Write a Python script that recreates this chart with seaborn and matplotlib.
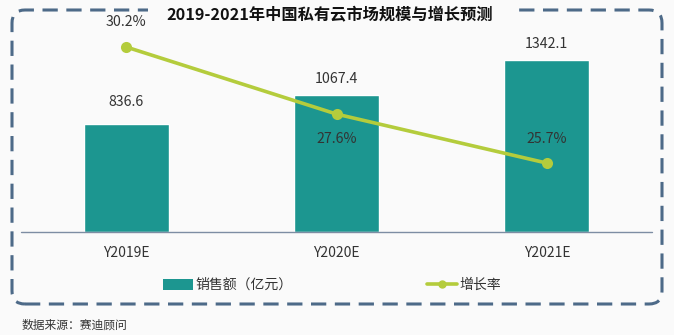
import matplotlib
matplotlib.use("Agg")
import matplotlib.pyplot as plt
import seaborn as sns
import pandas as pd
from matplotlib.patches import FancyBboxPatch, Patch, Rectangle
from matplotlib.lines import Line2D
from matplotlib.transforms import IdentityTransform

categories = ["Y2019E", "Y2020E", "Y2021E"]
sales = [836.6, 1067.4, 1342.1]
growth = [30.2, 27.6, 25.7]
sales_labels = ["836.6", "1067.4", "1342.1"]
growth_labels = ["30.2%", "27.6%", "25.7%"]
title = "2019-2021年中国私有云市场规模与增长预测"
legend_bar = "销售额（亿元）"
legend_line = "增长率"
source = "数据来源：赛迪顾问"

sns.set_theme(style="white")
plt.rcParams["font.family"] = ["Noto Sans CJK SC", "DejaVu Sans"]

BAR = "#1c9690"
LINE = "#b4cc3c"
TXT = "#333333"
BG = "#fafafa"

df = pd.DataFrame({"cat": categories, "sales": sales, "growth": growth})

fig = plt.figure(figsize=(6.74, 3.35), dpi=100)
fig.patch.set_facecolor(BG)

ax = fig.add_axes([21 / 674, 103 / 335, 631 / 674, 212 / 335])
ax.set_facecolor("none")
sns.barplot(data=df, x="cat", y="sales", color=BAR, width=0.405, ax=ax, saturation=1)
ax.axhline(0, color="#7d8da3", linewidth=1.0, clip_on=False, zorder=5)
ax.set_xlim(-0.5, 2.5)
ax.set_ylim(0, 212 / 0.1285)
ax.set_xlabel("")
ax.set_ylabel("")
ax.set_yticks([])
ax.tick_params(axis="x", length=0, labelsize=10, labelcolor=TXT, pad=10)
for s in ax.spines.values():
    s.set_visible(False)

bar_off = [22, 16, 16]
for i, (v, lab) in enumerate(zip(sales, sales_labels)):
    ax.annotate(lab, (i, v), xytext=(0, bar_off[i]), textcoords="offset pixels",
                ha="center", va="center", fontsize=10.2, color=TXT)

ax2 = ax.twinx()
ax2.set_facecolor("none")
sns.lineplot(data=df, x="cat", y="growth", color=LINE, linewidth=2.6, marker="o",
             markersize=8, markeredgewidth=0, ax=ax2, sort=False)
ax2.set_ylim(30.2 - 185 / 25.8, 30.2 + 27 / 25.8)
ax2.set_xlim(-0.5, 2.5)
ax2.set_yticks([])
ax2.set_ylabel("")
ax2.set_xlabel("")
for s in ax2.spines.values():
    s.set_visible(False)

pct_off = [25, -25, 24]
for i, (v, lab) in enumerate(zip(growth, growth_labels)):
    ax2.annotate(lab, (i, v), xytext=(0, pct_off[i]), textcoords="offset pixels",
                 ha="center", va="center", fontsize=10.2, color=TXT)

# dashed rounded frame (pixel coordinates)
frame = FancyBboxPatch((12, 335 - 304), 650, 294,
                       boxstyle="round,pad=0,rounding_size=13",
                       transform=IdentityTransform(), fill=False,
                       edgecolor="#4d6a88", linewidth=2.2,
                       linestyle=(0, (5, 2.8)), zorder=1)
fig.add_artist(frame)
gap = Rectangle((148, 335 - 20), 369, 18, transform=IdentityTransform(),
                facecolor=BG, edgecolor="none", zorder=1.5)
fig.add_artist(gap)

fig.text(330 / 674, 1 - 15 / 335, title, ha="center", va="center", fontsize=11.7,
         fontweight="bold", color="#111111", zorder=3)

h1 = Patch(facecolor=BAR, edgecolor="none")
h2 = Line2D([], [], color=LINE, linewidth=2.6, marker="o", markersize=5)
fig.legend([h1], [legend_bar], loc="center left",
           bbox_to_anchor=(150 / 674, 1 - 285 / 335), frameon=False,
           fontsize=10, handlelength=2.2, handleheight=0.85, handletextpad=0.15,
           labelcolor=TXT)
fig.legend([h2], [legend_line], loc="center left",
           bbox_to_anchor=(414 / 674, 1 - 285 / 335), frameon=False,
           fontsize=10, handlelength=2.2, handletextpad=0.15, labelcolor=TXT)

fig.text(22 / 674, 1 - 325 / 335, source, ha="left", va="center", fontsize=8.5,
         color=TXT)

fig.savefig("out.png", dpi=100, facecolor=fig.get_facecolor())
